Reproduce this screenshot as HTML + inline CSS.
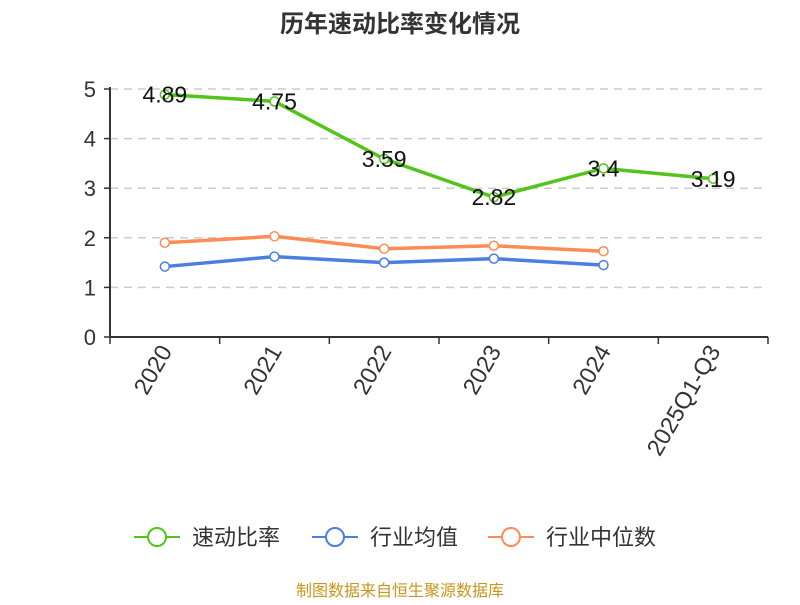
<!DOCTYPE html>
<html><head><meta charset="utf-8"><style>
body{margin:0;background:#fff;}
svg text{font-family:"Liberation Sans","Noto Sans CJK SC",sans-serif;}
</style></head><body>
<svg id="chart" width="800" height="600">
<text x="400" y="32" text-anchor="middle" font-size="24" font-weight="bold" fill="#333">历年速动比率变化情况</text>
<g id="grid"></g><g id="axes"></g><g id="series"></g>
<g>
<g><line x1="134" y1="537" x2="180" y2="537" stroke="#52c41a" stroke-width="2"/><circle cx="157" cy="537" r="9" fill="#fff" stroke="#52c41a" stroke-width="2"/><text x="192" y="545" font-size="22" fill="#333">速动比率</text></g>
<g><line x1="312" y1="537" x2="358" y2="537" stroke="#4a7fe0" stroke-width="2"/><circle cx="335" cy="537" r="9" fill="#fff" stroke="#4a7fe0" stroke-width="2"/><text x="370" y="545" font-size="22" fill="#333">行业均值</text></g>
<g><line x1="488" y1="537" x2="534" y2="537" stroke="#ff8c55" stroke-width="2"/><circle cx="511" cy="537" r="9" fill="#fff" stroke="#ff8c55" stroke-width="2"/><text x="546" y="545" font-size="22" fill="#333">行业中位数</text></g>
</g>
<text x="400" y="596" text-anchor="middle" font-size="16" fill="#c8961e">制图数据来自恒生聚源数据库</text>
</svg>
<script>
const categories=["2020","2021","2022","2023","2024","2025Q1-Q3"];
const quickRatio=[4.89,4.75,3.59,2.82,3.4,3.19];
const industryAvg=[1.42,1.62,1.50,1.58,1.45];
const industryMedian=[1.90,2.03,1.78,1.84,1.73];
const yTicks=[0,1,2,3,4,5];
const NS="http://www.w3.org/2000/svg";
const L=110,R=768,T=89,B=337,YMAX=5;
const bw=(R-L)/categories.length;
const xs=i=>L+bw*(i+0.5);
const ys=v=>B-(v/YMAX)*(B-T);
function mk(tag,attrs,parent){const e=document.createElementNS(NS,tag);for(const k in attrs)e.setAttribute(k,attrs[k]);parent.appendChild(e);return e;}
const grid=document.getElementById('grid'),axes=document.getElementById('axes'),ser=document.getElementById('series');
yTicks.forEach(t=>{
 if(t>0){const g=mk('line',{x1:L,x2:R,y1:ys(t),y2:ys(t),stroke:'#ccc','stroke-dasharray':'8,6','stroke-width':1.5},grid);
 
 }
 const tx=mk('text',{x:L-14,y:ys(t)+8,'text-anchor':'end','font-size':22,fill:'#333'},axes);tx.textContent=t;
 
 
 mk('line',{x1:L-6,x2:L,y1:ys(t),y2:ys(t),stroke:'#333','stroke-width':1.5},axes);
});
const ya=mk('line',{x1:L,x2:L,y1:T-2,y2:B,stroke:'#333','stroke-width':2},axes);


const xa=mk('line',{x1:L,x2:R,y1:B,y2:B,stroke:'#333','stroke-width':2},axes);


for(let i=0;i<=categories.length;i++)mk('line',{x1:L+bw*i,x2:L+bw*i,y1:B,y2:B+7,stroke:'#333','stroke-width':1.5},axes);
categories.forEach((c,i)=>{
 const tx=mk('text',{x:xs(i)+8,y:B+14,'text-anchor':'end','font-size':23.5,fill:'#333',transform:`rotate(-60 ${xs(i)+8} ${B+14})`},axes);tx.textContent=c;
 
 
});
function series(vals,color,name,labels){
 const p=mk('polyline',{points:vals.map((v,i)=>xs(i)+','+ys(v)).join(' '),fill:'none',stroke:color,'stroke-width':3.5},ser);
 
 
 vals.forEach((v,i)=>{
  const c=mk('circle',{cx:xs(i),cy:ys(v),r:4.5,fill:'#fff',stroke:color,'stroke-width':1.5},ser);
  
  
  if(labels){const t=mk('text',{x:xs(i),y:ys(v)+8,'text-anchor':'middle','font-size':23,fill:'#111'},ser);t.textContent=v;
  
  }
 });
}
series(industryMedian,'#ff8c55','industry-median',false);
series(industryAvg,'#4a7fe0','industry-avg',false);
series(quickRatio,'#52c41a','quick-ratio',true);
</script>
</body></html>
